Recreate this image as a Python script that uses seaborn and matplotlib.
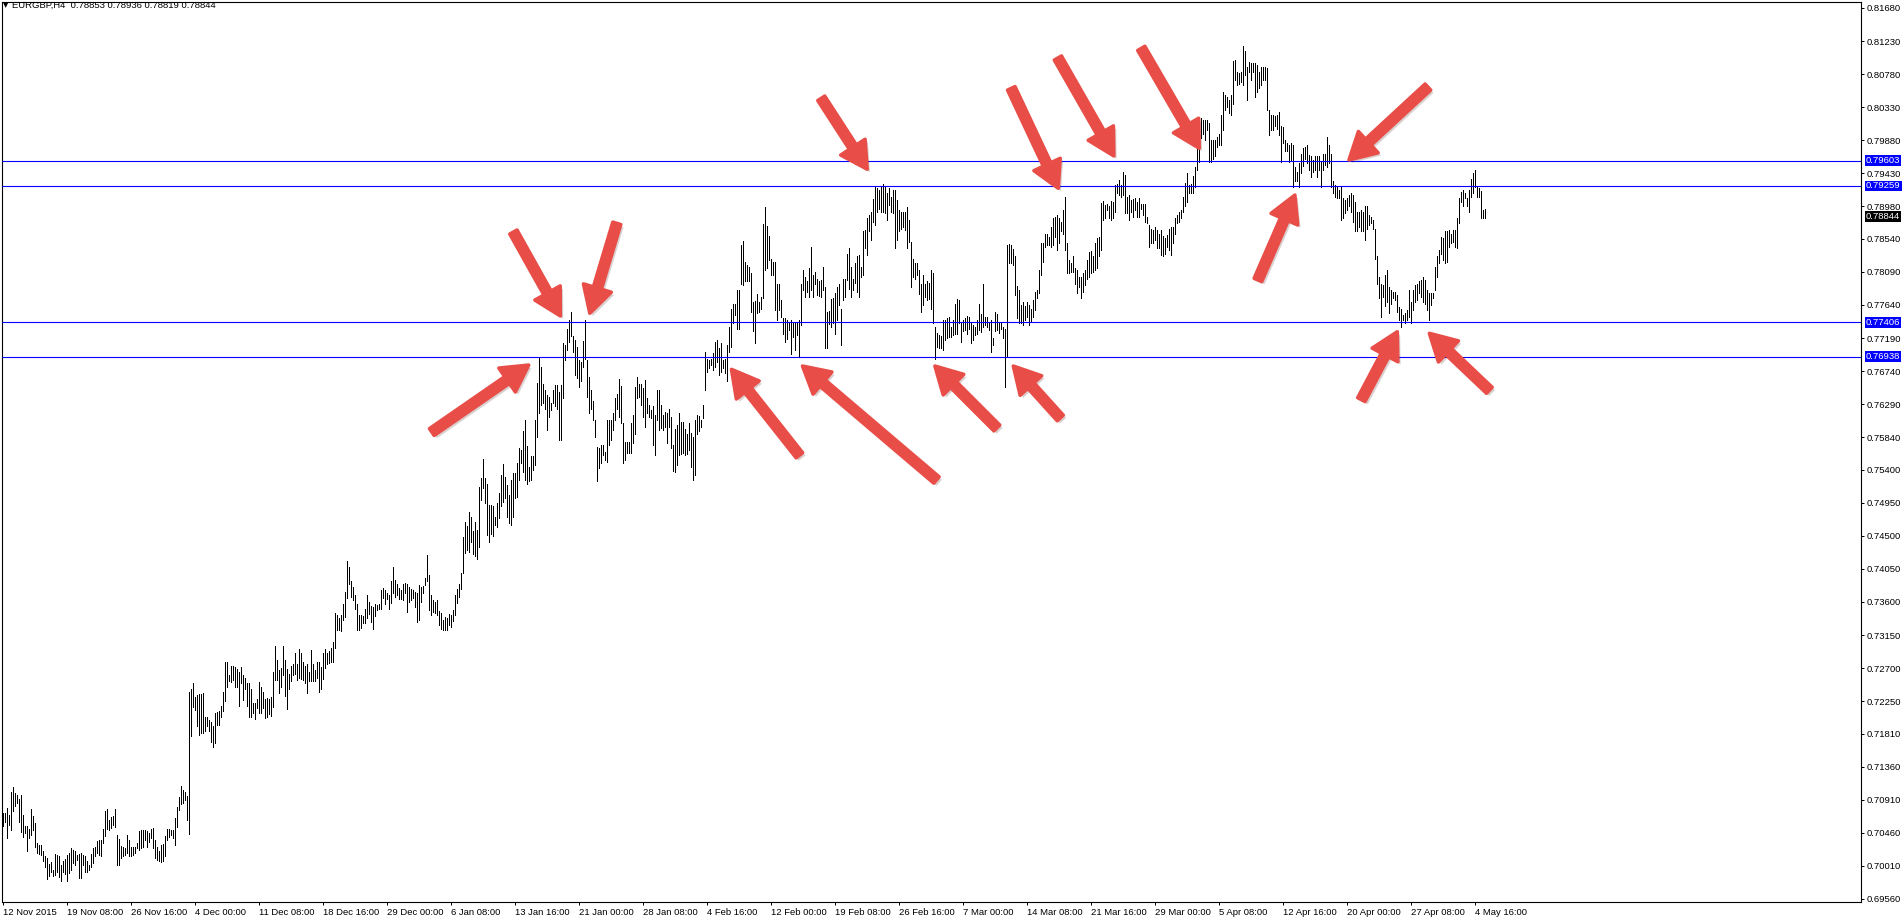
import numpy as np
import matplotlib
matplotlib.use("Agg")
import matplotlib.pyplot as plt
import matplotlib.patheffects as pe
import matplotlib.transforms as mtransforms
import seaborn as sns

# EURGBP H4 bars, highs and lows in units of 0.0001 (one value per 4h bar)
hi = [
    7073, 7073, 7080, 7070, 7101, 7108, 7100, 7098, 7092, 7098,
    7070, 7055, 7055, 7051, 7078, 7069, 7059, 7032, 7030, 7030,
    7021, 7014, 7012, 7003, 7006, 6996, 7017, 7016, 7015, 7002,
    7008, 7010, 7016, 7018, 7025, 7022, 7021, 7016, 7017, 7018,
    7016, 7014, 7007, 7002, 7017, 7025, 7027, 7035, 7036, 7036,
    7051, 7075, 7078, 7064, 7067, 7069, 7078, 7043, 7037, 7028,
    7027, 7025, 7043, 7036, 7027, 7026, 7027, 7032, 7049, 7050,
    7050, 7050, 7048, 7046, 7051, 7052, 7036, 7027, 7021, 7030,
    7031, 7042, 7051, 7051, 7050, 7050, 7066, 7081, 7095, 7110,
    7104, 7101, 7096, 7238, 7241, 7250, 7231, 7234, 7235, 7235,
    7236, 7203, 7203, 7199, 7197, 7191, 7209, 7210, 7211, 7218,
    7238, 7279, 7279, 7260, 7273, 7273, 7272, 7269, 7265, 7271,
    7260, 7256, 7250, 7250, 7241, 7222, 7223, 7228, 7251, 7244,
    7238, 7228, 7229, 7228, 7231, 7265, 7300, 7281, 7268, 7270,
    7300, 7281, 7269, 7262, 7273, 7275, 7290, 7275, 7296, 7290,
    7279, 7273, 7275, 7265, 7294, 7275, 7268, 7278, 7279, 7271,
    7290, 7296, 7290, 7293, 7297, 7306, 7345, 7342, 7338, 7342,
    7357, 7374, 7416, 7408, 7388, 7381, 7369, 7357, 7342, 7342,
    7341, 7351, 7369, 7360, 7354, 7353, 7357, 7356, 7357, 7376,
    7379, 7376, 7372, 7369, 7388, 7407, 7390, 7385, 7379, 7376,
    7385, 7386, 7385, 7381, 7377, 7376, 7374, 7372, 7383, 7380,
    7382, 7393, 7424, 7397, 7369, 7363, 7360, 7363, 7348, 7345,
    7335, 7340, 7338, 7344, 7342, 7349, 7369, 7377, 7385, 7400,
    7448, 7469, 7463, 7483, 7476, 7457, 7469, 7458, 7517, 7528,
    7554, 7528, 7521, 7492, 7492, 7490, 7476, 7494, 7508, 7533,
    7548, 7530, 7519, 7505, 7526, 7536, 7536, 7549, 7569, 7567,
    7592, 7607, 7572, 7544, 7558, 7558, 7607, 7658, 7693, 7679,
    7657, 7648, 7642, 7639, 7630, 7648, 7655, 7655, 7646, 7655,
    7712, 7710, 7731, 7744, 7754, 7722, 7717, 7707, 7689, 7687,
    7715, 7743, 7689, 7666, 7648, 7634, 7607, 7571, 7569, 7574,
    7574, 7564, 7607, 7607, 7607, 7617, 7637, 7643, 7663, 7654,
    7603, 7578, 7578, 7578, 7603, 7614, 7653, 7666, 7657, 7657,
    7651, 7662, 7637, 7628, 7621, 7626, 7614, 7648, 7648, 7628,
    7614, 7619, 7617, 7622, 7612, 7573, 7595, 7601, 7617, 7605,
    7605, 7595, 7589, 7603, 7590, 7585, 7607, 7614, 7613, 7607,
    7628, 7700, 7691, 7689, 7691, 7698, 7714, 7716, 7705, 7712,
    7689, 7691, 7709, 7734, 7758, 7766, 7766, 7785, 7785, 7845,
    7851, 7823, 7818, 7816, 7808, 7768, 7770, 7779, 7768, 7775,
    7874, 7897, 7871, 7858, 7827, 7823, 7823, 7793, 7793, 7771,
    7746, 7746, 7743, 7741, 7743, 7739, 7741, 7739, 7744, 7793,
    7812, 7802, 7796, 7814, 7843, 7805, 7809, 7800, 7796, 7798,
    7816, 7789, 7754, 7756, 7772, 7773, 7780, 7789, 7793, 7759,
    7800, 7800, 7834, 7842, 7816, 7800, 7821, 7830, 7832, 7816,
    7864, 7866, 7882, 7886, 7891, 7908, 7925, 7923, 7920, 7925,
    7929, 7925, 7916, 7923, 7911, 7921, 7920, 7907, 7893, 7891,
    7891, 7891, 7897, 7880, 7850, 7827, 7821, 7821, 7812, 7793,
    7805, 7793, 7796, 7794, 7812, 7807, 7734, 7726, 7723, 7722,
    7744, 7744, 7746, 7748, 7734, 7743, 7766, 7772, 7771, 7741,
    7744, 7746, 7749, 7748, 7741, 7737, 7734, 7743, 7765, 7752,
    7792, 7748, 7748, 7741, 7743, 7719, 7755, 7752, 7740, 7740,
    7734, 7732, 7845, 7847, 7845, 7840, 7831, 7790, 7784, 7764,
    7768, 7762, 7768, 7764, 7759, 7771, 7782, 7784, 7812, 7848,
    7848, 7860, 7860, 7857, 7870, 7882, 7884, 7886, 7882, 7877,
    7893, 7911, 7848, 7825, 7821, 7830, 7814, 7812, 7802, 7802,
    7807, 7811, 7825, 7836, 7838, 7830, 7848, 7855, 7857, 7903,
    7906, 7900, 7902, 7898, 7906, 7904, 7927, 7928, 7934, 7927,
    7945, 7941, 7911, 7913, 7907, 7908, 7909, 7904, 7909, 7902,
    7902, 7902, 7884, 7873, 7868, 7866, 7870, 7866, 7861, 7866,
    7858, 7855, 7859, 7868, 7870, 7870, 7882, 7886, 7891, 7893,
    7911, 7930, 7943, 7927, 7929, 7939, 7952, 7977, 8020, 8019,
    8016, 8016, 8016, 8011, 7988, 7989, 7988, 7993, 7997, 8022,
    8054, 8050, 8047, 8043, 8050, 8096, 8097, 8081, 8079, 8081,
    8116, 8109, 8088, 8095, 8093, 8093, 8093, 8090, 8081, 8088,
    8088, 8088, 8087, 8029, 8022, 8022, 8021, 8022, 8027, 8007,
    8006, 7988, 7984, 7982, 7984, 7982, 7952, 7945, 7957, 7970,
    7977, 7979, 7982, 7968, 7966, 7961, 7966, 7966, 7966, 7959,
    7970, 7970, 7993, 7982, 7970, 7932, 7927, 7926, 7920, 7925,
    7909, 7907, 7909, 7914, 7916, 7914, 7904, 7891, 7891, 7893,
    7891, 7898, 7898, 7886, 7884, 7880, 7868, 7830, 7802, 7793,
    7791, 7805, 7811, 7789, 7784, 7782, 7782, 7778, 7761, 7759,
    7750, 7753, 7757, 7784, 7768, 7784, 7791, 7793, 7796, 7798,
    7802, 7798, 7784, 7780, 7780, 7780, 7815, 7830, 7839, 7856,
    7855, 7864, 7864, 7866, 7861, 7866, 7866, 7882, 7909, 7918,
    7920, 7916, 7909, 7920, 7936, 7943, 7947, 7925, 7923, 7919,
    7893, 7894,
]
lo = [
    7055, 7061, 7039, 7057, 7050, 7076, 7082, 7086, 7060, 7047,
    7040, 7046, 7021, 7039, 7043, 7050, 7027, 7018, 7017, 7016,
    7007, 7000, 6983, 6987, 6993, 6987, 6989, 6992, 6986, 6981,
    6993, 6990, 6981, 6991, 6996, 7005, 7002, 7009, 6984, 6984,
    7002, 6992, 6992, 6996, 7000, 7005, 7014, 7018, 7016, 7014,
    7032, 7041, 7051, 7050, 7052, 7056, 7054, 7002, 7002, 7012,
    7014, 7016, 7018, 7014, 7015, 7016, 7019, 7025, 7022, 7025,
    7027, 7036, 7027, 7033, 7039, 7025, 7012, 7009, 7007, 7006,
    7007, 7014, 7036, 7040, 7043, 7039, 7029, 7054, 7077, 7085,
    7086, 7091, 7064, 7044, 7177, 7217, 7213, 7191, 7179, 7182,
    7182, 7184, 7191, 7184, 7170, 7163, 7168, 7192, 7192, 7204,
    7211, 7225, 7244, 7252, 7251, 7254, 7244, 7244, 7218, 7250,
    7227, 7241, 7218, 7203, 7203, 7209, 7201, 7216, 7209, 7209,
    7216, 7202, 7204, 7207, 7205, 7217, 7254, 7254, 7236, 7244,
    7260, 7232, 7214, 7241, 7252, 7260, 7262, 7254, 7256, 7255,
    7254, 7250, 7236, 7252, 7252, 7252, 7253, 7256, 7238, 7241,
    7255, 7270, 7275, 7277, 7279, 7279, 7297, 7322, 7322, 7320,
    7335, 7340, 7366, 7385, 7367, 7363, 7351, 7322, 7322, 7324,
    7331, 7332, 7338, 7344, 7333, 7323, 7341, 7349, 7350, 7351,
    7365, 7357, 7364, 7350, 7358, 7372, 7367, 7369, 7364, 7364,
    7363, 7372, 7347, 7360, 7363, 7365, 7353, 7333, 7335, 7360,
    7372, 7383, 7389, 7349, 7342, 7347, 7345, 7342, 7329, 7323,
    7322, 7322, 7322, 7329, 7326, 7334, 7342, 7359, 7367, 7377,
    7400, 7426, 7431, 7428, 7442, 7425, 7423, 7419, 7435, 7499,
    7515, 7494, 7451, 7441, 7453, 7450, 7465, 7462, 7474, 7490,
    7496, 7501, 7476, 7467, 7465, 7476, 7501, 7503, 7526, 7549,
    7537, 7526, 7521, 7524, 7526, 7540, 7546, 7585, 7617, 7628,
    7630, 7623, 7594, 7612, 7621, 7630, 7626, 7623, 7580, 7580,
    7638, 7689, 7703, 7713, 7722, 7700, 7669, 7664, 7653, 7660,
    7680, 7691, 7639, 7617, 7623, 7608, 7584, 7524, 7542, 7549,
    7560, 7553, 7551, 7574, 7580, 7594, 7607, 7622, 7612, 7603,
    7549, 7553, 7562, 7562, 7563, 7576, 7589, 7637, 7639, 7628,
    7612, 7598, 7617, 7612, 7610, 7573, 7560, 7607, 7594, 7596,
    7594, 7598, 7576, 7598, 7569, 7538, 7537, 7546, 7560, 7561,
    7562, 7560, 7561, 7567, 7544, 7526, 7533, 7589, 7592, 7598,
    7610, 7648, 7673, 7678, 7682, 7675, 7680, 7687, 7669, 7673,
    7678, 7672, 7660, 7700, 7707, 7739, 7750, 7732, 7732, 7793,
    7791, 7796, 7796, 7797, 7755, 7728, 7712, 7753, 7755, 7759,
    7773, 7812, 7814, 7825, 7805, 7805, 7757, 7743, 7757, 7748,
    7725, 7714, 7718, 7730, 7697, 7721, 7703, 7723, 7694, 7737,
    7784, 7775, 7782, 7775, 7784, 7775, 7793, 7778, 7776, 7775,
    7784, 7706, 7706, 7738, 7734, 7739, 7725, 7743, 7764, 7709,
    7771, 7775, 7798, 7786, 7775, 7784, 7794, 7782, 7775, 7802,
    7805, 7841, 7832, 7864, 7852, 7877, 7873, 7891, 7895, 7891,
    7891, 7889, 7880, 7900, 7891, 7889, 7842, 7852, 7864, 7868,
    7870, 7866, 7842, 7850, 7789, 7802, 7800, 7805, 7779, 7755,
    7764, 7775, 7771, 7772, 7759, 7739, 7691, 7707, 7706, 7705,
    7703, 7716, 7719, 7721, 7721, 7723, 7725, 7725, 7739, 7713,
    7728, 7730, 7725, 7732, 7712, 7716, 7723, 7725, 7730, 7727,
    7734, 7737, 7734, 7730, 7700, 7709, 7728, 7730, 7726, 7731,
    7719, 7652, 7694, 7821, 7821, 7818, 7777, 7746, 7740, 7739,
    7737, 7743, 7748, 7737, 7741, 7748, 7757, 7773, 7780, 7805,
    7823, 7843, 7845, 7845, 7843, 7845, 7857, 7839, 7848, 7864,
    7861, 7839, 7807, 7807, 7809, 7809, 7793, 7780, 7789, 7773,
    7782, 7791, 7800, 7802, 7807, 7809, 7812, 7814, 7830, 7839,
    7880, 7882, 7893, 7883, 7880, 7882, 7891, 7916, 7913, 7911,
    7913, 7889, 7889, 7880, 7891, 7884, 7893, 7884, 7884, 7895,
    7886, 7877, 7876, 7843, 7848, 7848, 7852, 7841, 7841, 7832,
    7830, 7834, 7843, 7839, 7832, 7848, 7861, 7876, 7877, 7882,
    7891, 7898, 7904, 7916, 7917, 7916, 7925, 7948, 7959, 7991,
    7997, 7988, 8002, 7959, 7959, 7963, 7966, 7979, 7982, 7982,
    8002, 8029, 8034, 8025, 8022, 8038, 8070, 8063, 8065, 8068,
    8063, 8077, 8043, 8081, 8070, 8081, 8047, 8054, 8059, 8063,
    8070, 8070, 8029, 7995, 8002, 8002, 8007, 8004, 7995, 7959,
    7984, 7973, 7973, 7959, 7961, 7925, 7932, 7932, 7925, 7943,
    7953, 7963, 7957, 7948, 7938, 7945, 7948, 7938, 7948, 7925,
    7948, 7954, 7952, 7957, 7925, 7916, 7911, 7909, 7909, 7880,
    7882, 7889, 7893, 7898, 7891, 7877, 7864, 7864, 7870, 7864,
    7864, 7852, 7868, 7873, 7875, 7868, 7827, 7793, 7773, 7748,
    7775, 7762, 7768, 7753, 7766, 7773, 7771, 7755, 7744, 7734,
    7744, 7739, 7743, 7748, 7739, 7757, 7768, 7771, 7780, 7775,
    7768, 7766, 7757, 7743, 7764, 7773, 7784, 7802, 7821, 7834,
    7825, 7821, 7823, 7843, 7848, 7850, 7843, 7841, 7875, 7904,
    7898, 7909, 7898, 7891, 7911, 7916, 7925, 7911, 7911, 7882,
    7882, 7882,
]

date_labels = [
    "12 Nov 2015", "19 Nov 08:00", "26 Nov 16:00", "4 Dec 00:00", "11 Dec 08:00",
    "18 Dec 16:00", "29 Dec 00:00", "6 Jan 08:00", "13 Jan 16:00", "21 Jan 00:00",
    "28 Jan 08:00", "4 Feb 16:00", "12 Feb 00:00", "19 Feb 08:00", "26 Feb 16:00",
    "7 Mar 00:00", "14 Mar 08:00", "21 Mar 16:00", "29 Mar 00:00", "5 Apr 08:00",
    "12 Apr 16:00", "20 Apr 00:00", "27 Apr 08:00", "4 May 16:00",
]
bars_per_label = 32

price_labels = [
    "0.81680", "0.81230", "0.80780", "0.80330", "0.79880", "0.79430", "0.78980",
    "0.78540", "0.78090", "0.77640", "0.77190", "0.76740", "0.76290", "0.75840",
    "0.75400", "0.74950", "0.74500", "0.74050", "0.73600", "0.73150", "0.72700",
    "0.72250", "0.71810", "0.71360", "0.70910", "0.70460", "0.70010", "0.69560",
]

levels = [0.79603, 0.79259, 0.77406, 0.76938]
last_close = 0.78844
header = "EURGBP,H4  0.78853 0.78936 0.78819 0.78844"

# red arrows: bar index and price at the tip, tail offset in pixels (dx, dy up)
arrow_tips = [
    (263.0, 0.76823, -97, -67),
    (278.8, 0.77490, -47, 84),
    (293.5, 0.77527, 27, 90),
    (364.3, 0.76765, 68, -86),
    (399.8, 0.76810, 134, -114),
    (466.0, 0.76810, 62, -62),
    (505.2, 0.76810, 47, -52),
    (432.2, 0.79486, -46, 71),
    (527.7, 0.79227, -47, 100),
    (555.5, 0.79667, -56, 98),
    (598.2, 0.79771, -58, 100),
    (673.0, 0.79612, 79, 73),
    (646.0, 0.79136, -37, -85),
    (697.2, 0.77277, -36, -68),
    (713.2, 0.77255, 60, -57),
]

assert len(hi) == len(lo), (len(hi), len(lo))

sns.set_theme(style="white")
plt.rcParams["font.family"] = ["Liberation Sans", "DejaVu Sans"]

W, H = 1904, 923
fig = plt.figure(figsize=(W / 100, H / 100), dpi=100)
ax = fig.add_axes([2 / W, 21 / H, 1859 / W, 900 / H])

x = np.arange(len(hi))
ax.vlines(x, np.array(lo) / 1e4, np.array(hi) / 1e4, colors="black",
          linewidth=0.5, antialiased=False, zorder=2)

ax.set_xlim(-0.35, 929)
ax.set_ylim(0.695184, 0.817616)

for s in ax.spines.values():
    s.set_color("black")
    s.set_linewidth(0.8)

fs = 6.8
ax.yaxis.tick_right()
ax.set_yticks([float(p) for p in price_labels])
ax.set_yticklabels(price_labels)
ax.set_xticks(np.arange(len(date_labels)) * bars_per_label)
ax.set_xticklabels(date_labels)
ax.tick_params(axis="y", right=True, left=False, length=2.5, width=0.7,
               pad=1.5, labelsize=fs, colors="black")
ax.tick_params(axis="x", bottom=True, length=2.5, width=0.7, pad=1.5,
               labelsize=fs, colors="black")
for lab in ax.get_xticklabels():
    lab.set_ha("left")
ax.grid(False)

# support / resistance lines with their price boxes on the axis
trans = mtransforms.blended_transform_factory(ax.transAxes, ax.transData)
for lvl in levels:
    ax.axhline(lvl, color="#0000ff", lw=0.8, zorder=3)
    ax.annotate(f"{lvl:.5f}", xy=(1, lvl), xycoords=trans, xytext=(5, 0),
                textcoords="offset pixels", ha="left", va="center",
                color="white", fontsize=fs, annotation_clip=False, zorder=6,
                bbox=dict(boxstyle="square,pad=0.1", fc="#0000ff", ec="none"))
ax.annotate(f"{last_close:.5f}", xy=(1, last_close), xycoords=trans,
            xytext=(5, 0), textcoords="offset pixels", ha="left", va="center",
            color="white", fontsize=fs, annotation_clip=False, zorder=6,
            bbox=dict(boxstyle="square,pad=0.1", fc="black", ec="none"))

red = "#E84D47"
for bx, py, dx, dy in arrow_tips:
    ax.annotate("", xy=(bx, py), xycoords="data", xytext=(dx, dy),
                textcoords="offset pixels", annotation_clip=False,
                arrowprops=dict(
                    arrowstyle="simple,head_length=1.9,head_width=2.1,tail_width=0.6",
                    mutation_scale=10, fc=red, ec=red, lw=2.5,
                    joinstyle="round", capstyle="round", shrinkA=0, shrinkB=0,
                    path_effects=[pe.SimplePatchShadow(offset=(2, -2), alpha=0.2),
                                  pe.Normal()]),
                zorder=5)

fig.text(3 / W, 1 - 5 / H, "\u25bc", fontsize=5, family="DejaVu Sans",
         ha="left", va="center", color="black")
fig.text(12 / W, 1 - 5 / H, header, fontsize=fs, ha="left", va="center",
         color="black")

fig.savefig("out.png", dpi=100)
